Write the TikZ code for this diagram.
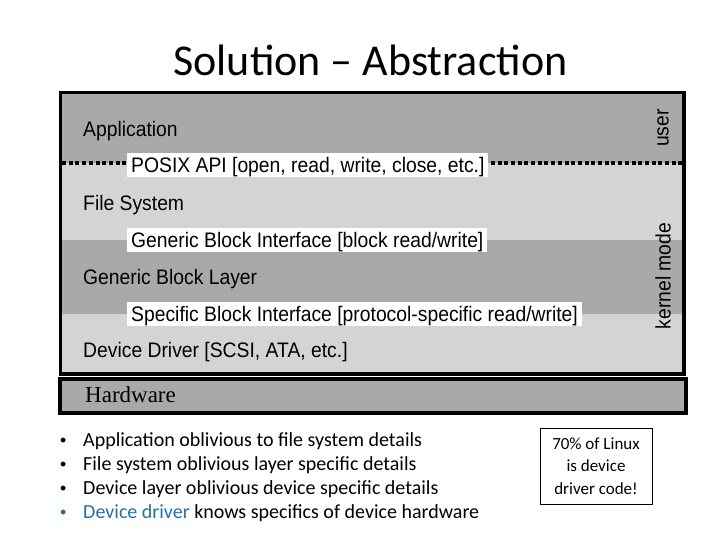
\documentclass[tikz,border=0pt]{standalone}
\usepackage{fontspec}
\setmainfont{Carlito}
\newfontfamily\figfont[FakeStretch=0.92]{Liberation Sans}
\newfontfamily\hwfont{Liberation Serif}
\newfontfamily\dotfont{Liberation Sans}
\definecolor{darkband}{RGB}{169,169,169}
\definecolor{lightband}{RGB}{212,212,212}
\definecolor{ddblue}{RGB}{36,113,168}
\tikzset{
  lbl/.style={anchor=west, inner sep=0pt, text height=15pt, text depth=0pt, font=\figfont\fontsize{21}{24}\selectfont},
  ifbox/.style={lbl, fill=white, inner xsep=4pt, inner ysep=4.5pt},
  side/.style={inner sep=0pt, rotate=90, font=\figfont\fontsize{21}{24}\selectfont},
  bullettext/.style={anchor=base west, inner sep=0pt, font=\fontsize{20}{24}\selectfont},
  bulletdot/.style={anchor=base west, inner sep=0pt, font=\dotfont\fontsize{18}{24}\selectfont},
}
\begin{document}
\begin{tikzpicture}[x=1pt,y=-1pt]
\useasboundingbox (0,0) rectangle (720,540);
% title
\node[anchor=base, inner sep=0pt, font=\fontsize{44}{50}\selectfont] (title) at (370.5,76) {Solution – Abstraction};
% bands
\fill[darkband] (60,92) rectangle (684,163);
\fill[lightband] (60,163) rectangle (684,240);
\fill[darkband] (60,240) rectangle (684,314);
\fill[lightband] (60,314) rectangle (684,374);
% dotted boundary user/kernel
\coordinate (dl) at (62,163);
\coordinate (dr) at (684,163);
\draw[line width=4pt, dash pattern=on 4pt off 2.7pt] (dl) -- (dr);
% layer labels
\node[lbl] (app) at (83,129) {Application};
\node[lbl] (fs) at (83,203) {File System};
\node[lbl] (gbl) at (83,277) {Generic Block Layer};
\node[lbl] (dd) at (83,350) {Device Driver [SCSI, ATA, etc.]};
% interface boxes
\node[ifbox] (posix) at (127,165) {POSIX API [open, read, write, close, etc.]};
\node[ifbox] (gbi) at (127,240) {Generic Block Interface [block read/write]};
\node[ifbox] (sbi) at (127,313.5) {Specific Block Interface [protocol-specific read/write]};
% side labels
\node[side] (user) at (663,128) {user};
\node[side] (kernel) at (663,276) {kernel mode};
% frame
\draw[line width=3.5pt] (60.5,92.5) rectangle (684,374);
% hardware
\node[draw, line width=4pt, fill=darkband, minimum width=626pt, minimum height=34pt, anchor=north west, inner sep=0pt] (hwbox) at (58,377) {};
\node[anchor=base west, inner sep=0pt, font=\hwfont\fontsize{23}{26}\selectfont] (hw) at (85,402) {Hardware};
% bullets
\node[bulletdot] (b1) at (60,446) {•};
\node[bulletdot] (b2) at (60,470) {•};
\node[bulletdot] (b3) at (60,494) {•};
\node[bulletdot, text=ddblue] (b4) at (60,518) {•};
\node[bullettext] (t1) at (83,446) {Application oblivious to file system details};
\node[bullettext] (t2) at (83,470) {File system oblivious layer specific details};
\node[bullettext] (t3) at (83,494) {Device layer oblivious device specific details};
\node[bullettext] (t4) at (83,518) {\textcolor{ddblue}{Device driver} knows specifics of device hardware};
% note box
\node[draw, line width=1pt, minimum width=112pt, minimum height=76pt, align=center, inner sep=0pt, font=\fontsize{17}{22.5}\selectfont] (note) at (596,466) {70\% of Linux\\is device\\driver code!};
\end{tikzpicture}
\end{document}
